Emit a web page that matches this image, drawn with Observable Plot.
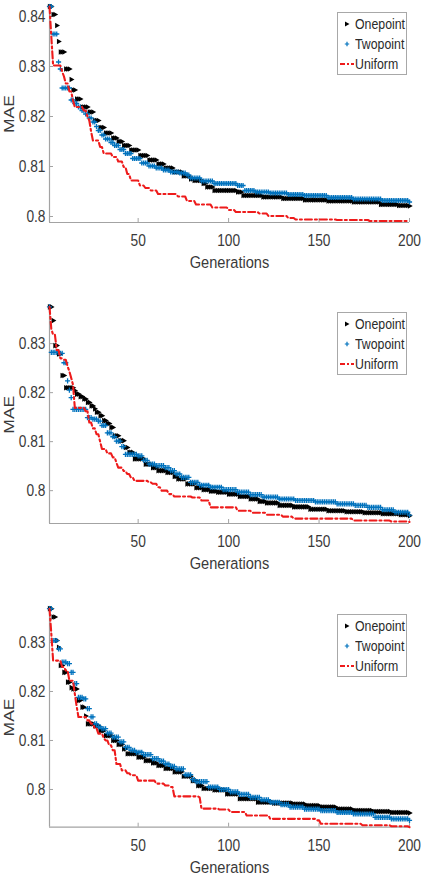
<!DOCTYPE html>
<html>
<head>
<meta charset="utf-8">
<script src="https://cdn.jsdelivr.net/npm/d3@7"></script>
<script src="https://cdn.jsdelivr.net/npm/@observablehq/plot@0.6"></script>
<style>
  html, body { margin: 0; padding: 0; background: #fff; }
  #wrap { position: relative; width: 435px; height: 876px; overflow: hidden; }
  .panel { position: absolute; left: 0; width: 435px; height: 292px; }
  .legend {
    position: absolute; left: 337px; width: 70px; height: 63px; box-sizing: border-box;
    border: 1px solid #a8a8a8; background: #fff; padding-top: 1px;
    font-family: 'Liberation Sans', Arial, sans-serif;
    font-size: 14.5px; color: #2a2a2a;
  }
  .legend .row { position: relative; height: 20px; line-height: 20px; }
  .legend svg { position: absolute; left: 1px; top: 3px; }
  .legend span { position: absolute; left: 17px; top: 0; white-space: nowrap;
    transform: scaleX(0.85); transform-origin: 0 50%; }
</style>
</head>
<body>
<div id="wrap"></div>
<script>
// Best-so-far MAE per generation: each series is stored as the generations
// where the value changes and the value it holds from there on.
const xTicks = [50, 100, 150, 200];
const yTicksTop = [0.80, 0.81, 0.82, 0.83, 0.84];
const yTicksLower = [0.80, 0.81, 0.82, 0.83];
const seriesNames = ["Onepoint", "Twopoint", "Uniform"];
const lastGeneration = 200;

// Panel 1
const p1OnepointGen = [1, 3, 5, 6, 7, 10, 13, 14, 16, 19, 23, 26, 29, 32, 36, 39, 42, 46, 51, 56, 61, 65, 70, 75, 79, 81, 86, 88, 92, 105, 108, 119, 130, 142, 155, 169, 184, 194, 200];
const p1OnepointMae = [0.8420, 0.8404, 0.8382, 0.8350, 0.8329, 0.8295, 0.8274, 0.8253, 0.8235, 0.8219, 0.8209, 0.8192, 0.8178, 0.8167, 0.8157, 0.8150, 0.8142, 0.8133, 0.8122, 0.8113, 0.8105, 0.8097, 0.8089, 0.8081, 0.8075, 0.8072, 0.8066, 0.8059, 0.8052, 0.8049, 0.8042, 0.8039, 0.8036, 0.8033, 0.8031, 0.8029, 0.8024, 0.8022, 0.8021];
const p1TwopointGen = [1, 3, 6, 7, 8, 13, 15, 17, 19, 21, 23, 25, 27, 28, 30, 32, 35, 37, 40, 43, 47, 52, 56, 60, 64, 68, 73, 77, 79, 85, 92, 105, 109, 115, 123, 133, 142, 155, 169, 185, 200];
const p1TwopointMae = [0.8420, 0.8365, 0.8309, 0.8295, 0.8257, 0.8233, 0.8226, 0.8219, 0.8212, 0.8205, 0.8197, 0.8189, 0.8180, 0.8172, 0.8163, 0.8155, 0.8148, 0.8142, 0.8134, 0.8126, 0.8116, 0.8107, 0.8101, 0.8097, 0.8093, 0.8089, 0.8087, 0.8083, 0.8077, 0.8071, 0.8066, 0.8062, 0.8052, 0.8049, 0.8047, 0.8044, 0.8042, 0.8038, 0.8035, 0.8032, 0.8029];
const p1UniformGen = [1, 2, 3, 8, 9, 10, 12, 14, 15, 20, 22, 23, 24, 25, 29, 31, 36, 39, 42, 44, 46, 51, 54, 57, 61, 72, 77, 82, 91, 100, 104, 117, 122, 133, 137, 160, 178, 200];
const p1UniformMae = [0.8420, 0.8360, 0.8302, 0.8290, 0.8280, 0.8266, 0.8250, 0.8232, 0.8219, 0.8212, 0.8200, 0.8192, 0.8170, 0.8152, 0.8139, 0.8126, 0.8119, 0.8110, 0.8099, 0.8085, 0.8072, 0.8062, 0.8057, 0.8052, 0.8045, 0.8040, 0.8031, 0.8024, 0.8018, 0.8013, 0.8009, 0.8006, 0.8001, 0.7997, 0.7994, 0.7993, 0.7991, 0.7990];

// Panel 2
const p2OnepointGen = [1, 3, 4, 6, 8, 10, 15, 16, 18, 20, 22, 24, 26, 27, 29, 31, 33, 35, 37, 40, 43, 45, 48, 54, 58, 61, 66, 70, 72, 77, 82, 86, 90, 94, 100, 106, 112, 117, 121, 128, 136, 145, 155, 165, 175, 185, 195, 200];
const p2OnepointMae = [0.8375, 0.8347, 0.8296, 0.8279, 0.8235, 0.8210, 0.8204, 0.8197, 0.8192, 0.8187, 0.8180, 0.8173, 0.8167, 0.8160, 0.8153, 0.8143, 0.8137, 0.8129, 0.8112, 0.8102, 0.8088, 0.8078, 0.8065, 0.8054, 0.8047, 0.8041, 0.8037, 0.8029, 0.8024, 0.8014, 0.8006, 0.8002, 0.7999, 0.7997, 0.7993, 0.7988, 0.7983, 0.7978, 0.7975, 0.7970, 0.7967, 0.7962, 0.7959, 0.7957, 0.7955, 0.7953, 0.7951, 0.7949];
const p2TwopointGen = [1, 2, 7, 9, 11, 12, 13, 14, 22, 25, 28, 30, 33, 36, 38, 41, 43, 50, 53, 56, 60, 65, 68, 71, 74, 79, 84, 90, 97, 105, 112, 119, 128, 137, 148, 160, 170, 177, 185, 192, 200];
const p2TwopointMae = [0.8375, 0.8282, 0.8280, 0.8261, 0.8224, 0.8205, 0.8190, 0.8166, 0.8149, 0.8146, 0.8142, 0.8133, 0.8118, 0.8110, 0.8101, 0.8090, 0.8074, 0.8071, 0.8062, 0.8054, 0.8051, 0.8047, 0.8041, 0.8034, 0.8027, 0.8017, 0.8011, 0.8007, 0.8002, 0.7997, 0.7992, 0.7987, 0.7983, 0.7980, 0.7977, 0.7973, 0.7970, 0.7966, 0.7961, 0.7956, 0.7950];
const p2UniformGen = [1, 2, 3, 5, 7, 9, 11, 12, 13, 14, 15, 21, 23, 25, 27, 29, 30, 33, 36, 38, 39, 42, 44, 46, 48, 56, 58, 61, 63, 67, 70, 80, 85, 90, 105, 113, 121, 130, 136, 169, 190, 200];
const p2UniformMae = [0.8375, 0.8330, 0.8318, 0.8287, 0.8270, 0.8267, 0.8254, 0.8243, 0.8230, 0.8216, 0.8169, 0.8162, 0.8139, 0.8127, 0.8115, 0.8100, 0.8085, 0.8076, 0.8068, 0.8057, 0.8047, 0.8040, 0.8034, 0.8027, 0.8020, 0.8017, 0.8014, 0.8007, 0.8000, 0.7993, 0.7988, 0.7986, 0.7980, 0.7966, 0.7959, 0.7955, 0.7951, 0.7947, 0.7943, 0.7939, 0.7937, 0.7936];

// Panel 3
const p3OnepointGen = [1, 3, 5, 6, 7, 9, 11, 13, 14, 17, 19, 21, 22, 26, 29, 32, 36, 39, 42, 44, 50, 54, 58, 61, 65, 70, 75, 80, 83, 86, 92, 99, 106, 116, 125, 136, 143, 151, 160, 169, 180, 190, 200];
const p3OnepointMae = [0.8369, 0.8352, 0.8304, 0.8290, 0.8253, 0.8239, 0.8219, 0.8208, 0.8205, 0.8182, 0.8168, 0.8150, 0.8134, 0.8130, 0.8120, 0.8110, 0.8100, 0.8092, 0.8083, 0.8073, 0.8066, 0.8059, 0.8054, 0.8049, 0.8043, 0.8036, 0.8027, 0.8018, 0.8008, 0.8002, 0.7999, 0.7991, 0.7981, 0.7974, 0.7972, 0.7970, 0.7967, 0.7964, 0.7960, 0.7957, 0.7955, 0.7953, 0.7952];
const p3TwopointGen = [1, 3, 6, 8, 11, 13, 15, 17, 20, 22, 24, 26, 28, 30, 33, 36, 40, 43, 46, 49, 53, 58, 62, 65, 68, 71, 76, 80, 82, 89, 95, 101, 106, 112, 118, 123, 129, 134, 142, 151, 160, 169, 181, 190, 200];
const p3TwopointMae = [0.8369, 0.8304, 0.8287, 0.8260, 0.8257, 0.8239, 0.8216, 0.8188, 0.8185, 0.8165, 0.8148, 0.8134, 0.8128, 0.8124, 0.8115, 0.8107, 0.8097, 0.8086, 0.8080, 0.8076, 0.8071, 0.8063, 0.8058, 0.8052, 0.8047, 0.8042, 0.8030, 0.8020, 0.8016, 0.8005, 0.8000, 0.7995, 0.7990, 0.7984, 0.7979, 0.7974, 0.7969, 0.7964, 0.7960, 0.7957, 0.7953, 0.7950, 0.7943, 0.7940, 0.7937];
const p3UniformGen = [1, 2, 3, 8, 10, 12, 15, 16, 17, 22, 24, 26, 28, 31, 32, 34, 36, 38, 41, 44, 46, 50, 60, 65, 68, 70, 84, 85, 95, 101, 110, 123, 149, 151, 174, 190, 200];
const p3UniformMae = [0.8369, 0.8318, 0.8263, 0.8250, 0.8243, 0.8222, 0.8195, 0.8170, 0.8148, 0.8141, 0.8134, 0.8125, 0.8114, 0.8105, 0.8100, 0.8090, 0.8080, 0.8052, 0.8039, 0.8033, 0.8029, 0.8018, 0.8012, 0.8008, 0.8005, 0.7986, 0.7984, 0.7961, 0.7959, 0.7954, 0.7947, 0.7940, 0.7937, 0.7930, 0.7927, 0.7925, 0.7923];

// Hold each recorded value until the next change (one row per generation).
function perGeneration(gens, maes) {
  const rows = [];
  let j = 0;
  for (let g = 1; g <= lastGeneration; g++) {
    while (j + 1 < gens.length && gens[j + 1] <= g) j++;
    rows.push({generation: g, mae: maes[j]});
  }
  return rows;
}

const colors = {Onepoint: "#000000", Twopoint: "#0072BD", Uniform: "#ee1b1b"};
const axisGray = "#a3a3a3";
const textColor = "#3a3a3a";
const textFont = "'Liberation Sans', Arial, sans-serif";
const squeeze = 0.86;  // condensed lettering
const W = 435, H = 292, ML = 49, MR = 26;

const panels = [
  {top: 0, marginTop: 5, marginBottom: 70, yDomain: [0.7988, 0.8422], yTicks: yTicksTop,
   one: [p1OnepointGen, p1OnepointMae], two: [p1TwopointGen, p1TwopointMae], uni: [p1UniformGen, p1UniformMae]},
  {top: 292, marginTop: 13.4, marginBottom: 61, yDomain: [0.7933, 0.8377], yTicks: yTicksLower,
   one: [p2OnepointGen, p2OnepointMae], two: [p2TwopointGen, p2TwopointMae], uni: [p2UniformGen, p2UniformMae]},
  {top: 584, marginTop: 23.2, marginBottom: 49.3, yDomain: [0.7923, 0.8371], yTicks: yTicksLower,
   one: [p3OnepointGen, p3OnepointMae], two: [p3TwopointGen, p3TwopointMae], uni: [p3UniformGen, p3UniformMae]}
];

// Narrow every text horizontally on screen, keeping its anchor point fixed.
function condenseText(svg) {
  for (const el of svg.querySelectorAll("text")) {
    const t = el.getAttribute("transform") || "";
    if (/rotate\(/.test(t)) {
      // rotated by -90°: the local y axis runs along the screen x axis
      el.setAttribute("transform", `${t} scale(1,${squeeze})`);
    } else {
      const x = parseFloat(el.getAttribute("x")) || 0;
      el.setAttribute("transform", `${t} translate(${x},0) scale(${squeeze},1) translate(${-x},0)`);
    }
  }
  return svg;
}

function drawPanel(p) {
  const innerW = W - ML - MR;
  const innerH = H - p.marginTop - p.marginBottom;
  const one = perGeneration(...p.one);
  const two = perGeneration(...p.two);
  const uni = perGeneration(...p.uni);
  const svg = Plot.plot({
    width: W, height: H,
    marginLeft: ML, marginRight: MR, marginTop: p.marginTop, marginBottom: p.marginBottom,
    style: {fontFamily: textFont, fontSize: "16px", color: textColor, background: "transparent", overflow: "visible"},
    x: {domain: [1, lastGeneration]},
    y: {domain: p.yDomain},
    marks: [
      Plot.ruleX([1], {stroke: axisGray, strokeWidth: 1.2}),
      Plot.ruleY([p.yDomain[0]], {stroke: axisGray, strokeWidth: 1.2}),
      Plot.ruleX(xTicks, {stroke: axisGray, insetTop: innerH - 4}),
      Plot.ruleY(p.yTicks, {stroke: axisGray, insetRight: innerW - 4}),
      Plot.axisX(xTicks, {tickSize: 0, tickPadding: 12, label: null, fontSize: 16}),
      Plot.axisY(p.yTicks, {tickSize: 0, tickPadding: 4, label: null, fontSize: 16,
        tickFormat: d => String(+d.toFixed(2))}),
      Plot.dot(one, {x: "generation", y: "mae", symbol: "triangle", rotate: 90, fill: colors.Onepoint, r: 2.1}),
      Plot.dot(two, {x: "generation", y: "mae", symbol: "plus", stroke: colors.Twopoint, r: 1.8, strokeWidth: 1.3}),
      Plot.line(uni, {x: "generation", y: "mae", stroke: colors.Uniform, strokeWidth: 2.1, strokeDasharray: "7,3,2,3"}),
      Plot.text(["Generations"], {frameAnchor: "bottom", dy: 40, lineAnchor: "middle", fontSize: 17, fill: textColor}),
      Plot.text(["MAE"], {frameAnchor: "left", dx: -40, rotate: -90, lineAnchor: "middle", textAnchor: "middle",
        fontSize: 17.5, fill: textColor})
    ]
  });
  return condenseText(svg);
}

function legendMarker(name) {
  const ns = "http://www.w3.org/2000/svg";
  const svg = document.createElementNS(ns, "svg");
  svg.setAttribute("width", 16);
  svg.setAttribute("height", 14);
  if (name === "Onepoint") {
    const t = document.createElementNS(ns, "path");
    t.setAttribute("d", "M6,4.5 L10.5,7 L6,9.5 Z");
    t.setAttribute("fill", colors.Onepoint);
    svg.appendChild(t);
  } else if (name === "Twopoint") {
    const t = document.createElementNS(ns, "path");
    t.setAttribute("d", "M8,4.8 V9.2 M5.8,7 H10.2");
    t.setAttribute("stroke", colors.Twopoint);
    t.setAttribute("stroke-width", 1.2);
    svg.appendChild(t);
  } else {
    const t = document.createElementNS(ns, "line");
    t.setAttribute("x1", 1); t.setAttribute("x2", 15);
    t.setAttribute("y1", 7); t.setAttribute("y2", 7);
    t.setAttribute("stroke", colors.Uniform);
    t.setAttribute("stroke-width", 2.2);
    t.setAttribute("stroke-dasharray", "5,2,2,2");
    svg.appendChild(t);
  }
  return svg;
}

const wrap = document.getElementById("wrap");
for (const p of panels) {
  const holder = document.createElement("div");
  holder.className = "panel";
  holder.style.top = p.top + "px";
  holder.appendChild(drawPanel(p));
  wrap.appendChild(holder);

  const legend = document.createElement("div");
  legend.className = "legend";
  legend.style.top = (p.top + p.marginTop + 7) + "px";
  for (const name of seriesNames) {
    const row = document.createElement("div");
    row.className = "row";
    row.appendChild(legendMarker(name));
    const label = document.createElement("span");
    label.textContent = name;
    row.appendChild(label);
    legend.appendChild(row);
  }
  wrap.appendChild(legend);
}
</script>
</body>
</html>
